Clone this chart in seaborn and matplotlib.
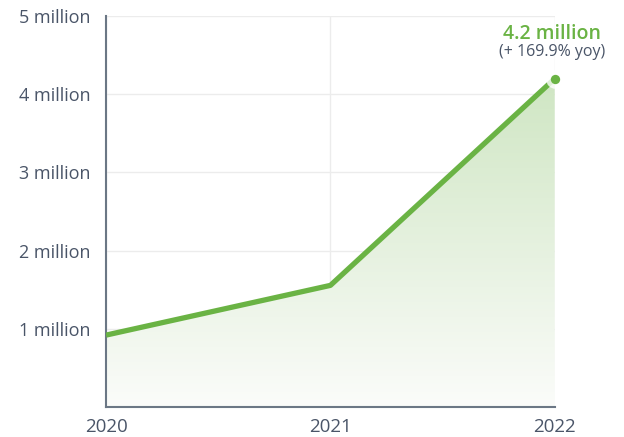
import numpy as np
import pandas as pd
import matplotlib
matplotlib.use("Agg")
import matplotlib.pyplot as plt
import seaborn as sns
from matplotlib.colors import LinearSegmentedColormap

years = [2020, 2021, 2022]
users_million = [0.92, 1.556, 4.2]
ytick_values = [1, 2, 3, 4, 5]
ytick_labels = ["1 million", "2 million", "3 million", "4 million", "5 million"]
end_label = "4.2 million"
end_sub = "(+ 169.9% yoy)"

GREEN = "#6ab344"
TEXT = "#4a5568"
AXIS = "#6b7785"

sns.set_style("white")
plt.rcParams["font.family"] = ["Open Sans", "DejaVu Sans"]

df = pd.DataFrame({"year": years, "users": users_million})

fig = plt.figure(figsize=(6.24, 4.37), dpi=100)
ax = fig.add_axes([0.17, 0.0686, 0.719, 0.8945])

# gradient fill under the line
grad = LinearSegmentedColormap.from_list("g", ["#fbfcfa", "#cfe6c3"])
img = ax.imshow(np.linspace(0, 1, 256).reshape(-1, 1), cmap=grad, aspect="auto",
                extent=[years[0], years[-1], 0, max(users_million)], origin="lower", zorder=1)
poly = ax.fill_between(df["year"], df["users"], 0, color="none")
img.set_clip_path(poly.get_paths()[0], transform=ax.transData)

sns.lineplot(data=df, x="year", y="users", ax=ax, color=GREEN, linewidth=3.8,
             solid_capstyle="butt", zorder=3)
ax.scatter([years[-1]], [users_million[-1]], s=180, color="white", alpha=0.8,
           linewidth=0, zorder=4, clip_on=False)
ax.scatter([years[-1]], [users_million[-1]], s=45, color=GREEN, linewidth=0,
           zorder=5, clip_on=False)

ax.set_xlim(years[0], years[-1])
ax.set_ylim(0, 5)
ax.set_xticks(years)
ax.set_xticklabels([str(y) for y in years])
ax.set_yticks(ytick_values)
ax.set_yticklabels(ytick_labels)
ax.tick_params(axis="both", length=0, colors=TEXT)
ax.tick_params(axis="x", pad=8, labelsize=13.5)
ax.tick_params(axis="y", pad=11, labelsize=13)
ax.set_xlabel("")
ax.set_ylabel("")

ax.grid(True, color="#ececec", linewidth=1)
ax.set_axisbelow(True)
for side in ["top", "right"]:
    ax.spines[side].set_visible(False)
for side in ["left", "bottom"]:
    ax.spines[side].set_color(AXIS)
    ax.spines[side].set_linewidth(1.5)

ax.annotate(end_label, (years[-1], users_million[-1]), xytext=(-2, 32),
            textcoords="offset points", ha="center", va="center", color=GREEN,
            fontsize=14, fontweight="semibold", annotation_clip=False)
ax.annotate(end_sub, (years[-1], users_million[-1]), xytext=(-2, 19.5),
            textcoords="offset points", ha="center", va="center", color=TEXT,
            fontsize=11.5, annotation_clip=False)

fig.savefig("out.png", dpi=100)
